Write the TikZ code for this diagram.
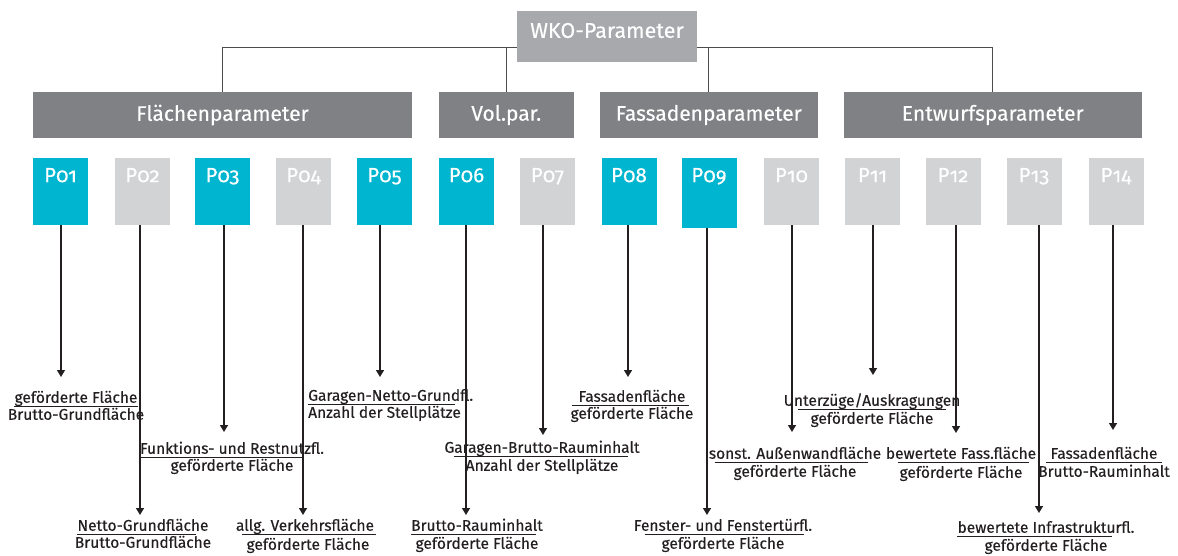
\documentclass[tikz,border=0pt]{standalone}
\usepackage{fontspec}
\setmainfont{Fira Sans}[FakeBold=0.3]
\newfontfamily\numfont{Fira Sans}[Numbers=OldStyle,FakeBold=0.3]
\usetikzlibrary{arrows.meta}
\definecolor{ink}{HTML}{231F20}
\definecolor{hicyan}{HTML}{00B5CF}
\definecolor{logray}{HTML}{D1D3D4}
\definecolor{catgray}{HTML}{808184}
\definecolor{rootgray}{HTML}{A7A9AC}
\definecolor{linkgray}{HTML}{4D4D4F}
\begin{document}
\begin{tikzpicture}[x=1pt,y=-1pt,
  pbox/.style={minimum width=55pt,minimum height=67pt,inner sep=0pt,draw=none},
  hi/.style={pbox,fill=hicyan},
  lo/.style={pbox,fill=logray},
  pnum/.style={anchor=north,yshift=-10pt,inner sep=0pt,text=white,
    font=\numfont\fontsize{20.5}{20.5}\selectfont},
  cat/.style={fill=catgray,text=white,minimum height=46pt,inner sep=0pt,
    font=\fontsize{21}{21}\selectfont},
  frac/.style={inner sep=0pt,text=ink,text height=11pt,text depth=3.5pt,
    font=\fontsize{15.5}{15.5}\selectfont},
  arr/.style={draw=ink,line width=1.4pt,-{Triangle[length=7pt,width=8pt]}},
  link/.style={draw=linkgray,line width=0.9pt},
  bar/.style={draw=ink,line width=0.7pt}]
\useasboundingbox (0,0) rectangle (1178,555);

% category bars
\node[cat,minimum width=379pt]   (flaechen) at (222.5,115)  {Flächenparameter};
\node[cat,minimum width=135.5pt] (volpar)   at (506.25,115) {Vol.par.};
\node[cat,minimum width=217.6pt] (fassaden) at (708.8,115)  {Fassadenparameter};
\node[cat,minimum width=298.5pt] (entwurf)  at (992.75,115) {Entwurfsparameter};

% bus from the root to the categories
\coordinate (bus) at (0,47);
\draw[link] (flaechen.north) -- (flaechen.north |- bus) -- (entwurf.north |- bus) -- (entwurf.north);
\draw[link] (volpar.north) -- (volpar.north |- bus);
\draw[link] (fassaden.north) -- (fassaden.north |- bus);

% root
\node[fill=rootgray,minimum width=180pt,minimum height=51pt,inner sep=0pt,
  label={[text=white,yshift=6pt,inner sep=0pt,font=\fontsize{21.5}{21.5}\selectfont]center:WKO-Parameter}]
  (wko) at (607,36.5) {};

% parameter boxes
\node[hi,label={[pnum]north:P01}] (p01) at (60.5,191.5) {};
\node[lo,label={[pnum]north:P02}] (p02) at (142.5,191.5) {};
\node[hi,label={[pnum]north:P03}] (p03) at (222.5,191.5) {};
\node[lo,label={[pnum]north:P04}] (p04) at (303.5,191.5) {};
\node[hi,label={[pnum]north:P05}] (p05) at (384.5,191.5) {};
\node[hi,label={[pnum]north:P06}] (p06) at (466.5,191.5) {};
\node[lo,label={[pnum]north:P07}] (p07) at (547.5,191.5) {};
\node[hi,label={[pnum]north:P08}] (p08) at (629,191.5) {};
\node[hi,minimum height=70pt,label={[pnum]north:P09}] (p09) at (709,193) {};
\node[lo,label={[pnum]north:P10}] (p10) at (791.5,191.5) {};
\node[lo,label={[pnum]north:P11}] (p11) at (872.5,191.5) {};
\node[lo,label={[pnum]north:P12}] (p12) at (953,191.5) {};
\node[lo,label={[pnum]north:P13}] (p13) at (1034,191.5) {};
\node[lo,label={[pnum]north:P14}] (p14) at (1116,191.5) {};

% arrow ends
\coordinate (e01) at (61,377);
\coordinate (e02) at (140,515);
\coordinate (e03) at (224,432);
\coordinate (e04) at (303,515);
\coordinate (e05) at (380,377);
\coordinate (e06) at (466,515);
\coordinate (e07) at (543,435);
\coordinate (e08) at (628,377);
\coordinate (e09) at (707,515);
\coordinate (e10) at (792,432);
\coordinate (e11) at (873,375);
\coordinate (e12) at (956,433);
\coordinate (e13) at (1039,513);
\coordinate (e14) at (1113,430);

\foreach \i in {01,02,03,04,05,06,07,08,09,10,11,12,13,14}
  \draw[arr] (p\i.south -| e\i) -- (e\i);

% ratio labels
\node[frac] (n01) at (76,399)  {geförderte Fläche};
\node[frac] (d01) at (76,416)  {Brutto-Grundfläche};
\node[frac] (n02) at (143,527) {Netto-Grundfläche};
\node[frac] (d02) at (143,544) {Brutto-Grundfläche};
\node[frac] (n03) at (232,450) {Funktions- und Restnutzfl.};
\node[frac] (d03) at (232,467) {geförderte Fläche};
\node[frac] (n04) at (305,527) {allg. Verkehrsfläche};
\node[frac] (d04) at (308,546) {geförderte Fläche};
\node[frac,anchor=west] (n05) at (308,397) {Garagen-Netto-Grundfl.};
\node[frac,anchor=west] (d05) at (308,414) {Anzahl der Stellplätze};
\node[frac] (n06) at (477,527) {Brutto-Rauminhalt};
\node[frac] (d06) at (477,545) {geförderte Fläche};
\node[frac] (n07) at (542,449) {Garagen-Brutto-Rauminhalt};
\node[frac] (d07) at (542,467) {Anzahl der Stellplätze};
\node[frac] (n08) at (632,398) {Fassadenfläche};
\node[frac] (d08) at (632,415) {geförderte Fläche};
\node[frac] (n09) at (723,527) {Fenster- und Fenstertürfl.};
\node[frac] (d09) at (723,545) {geförderte Fläche};
\node[frac] (n10) at (795,455) {sonst. Außenwandfläche};
\node[frac] (d10) at (795,473) {geförderte Fläche};
\node[frac] (n11) at (872,402) {Unterzüge/Auskragungen};
\node[frac] (d11) at (872,420) {geförderte Fläche};
\node[frac] (n12) at (961,455) {bewertete Fass.fläche};
\node[frac] (d12) at (961,474) {geförderte Fläche};
\node[frac] (n13) at (1046,529) {bewertete Infrastrukturfl.};
\node[frac] (d13) at (1046,547) {geförderte Fläche};
\node[frac] (n14) at (1104,455) {Fassadenfläche};
\node[frac] (d14) at (1104,473) {Brutto-Rauminhalt};

% fraction bars
\draw[bar] (n01.south west) -- (n01.south east);
\draw[bar] (n02.south west) -- ([xshift=-13pt]n02.south east);
\draw[bar] (n03.south west) -- ([xshift=-20pt]n03.south east);
\draw[bar] ([xshift=6pt]n04.south west) -- ([xshift=2pt]n04.south east);
\draw[bar] (n05.south west) -- ([xshift=-18pt]n05.south east);
\draw[bar] (n06.south west) -- ([xshift=-7pt]n06.south east);
\draw[bar] ([xshift=10pt]n07.south west) -- ([xshift=-12pt]n07.south east);
\draw[bar] ([xshift=-6pt]n08.south west) -- ([xshift=3pt]n08.south east);
\draw[bar] ([xshift=11pt]n09.south west) -- ([xshift=-8pt]n09.south east);
\draw[bar] ([xshift=6pt]n10.south west) -- ([xshift=-13pt]n10.south east);
\draw[bar] ([xshift=15pt]n11.south west) -- ([xshift=-15pt]n11.south east);
\draw[bar] ([xshift=12pt]n12.south west) -- ([xshift=-7pt]n12.south east);
\draw[bar] (n13.south west) -- ([xshift=-23pt]n13.south east);
\draw[bar] ([xshift=-4pt]n14.south west) -- ([xshift=4pt]n14.south east);
\end{tikzpicture}
\end{document}
